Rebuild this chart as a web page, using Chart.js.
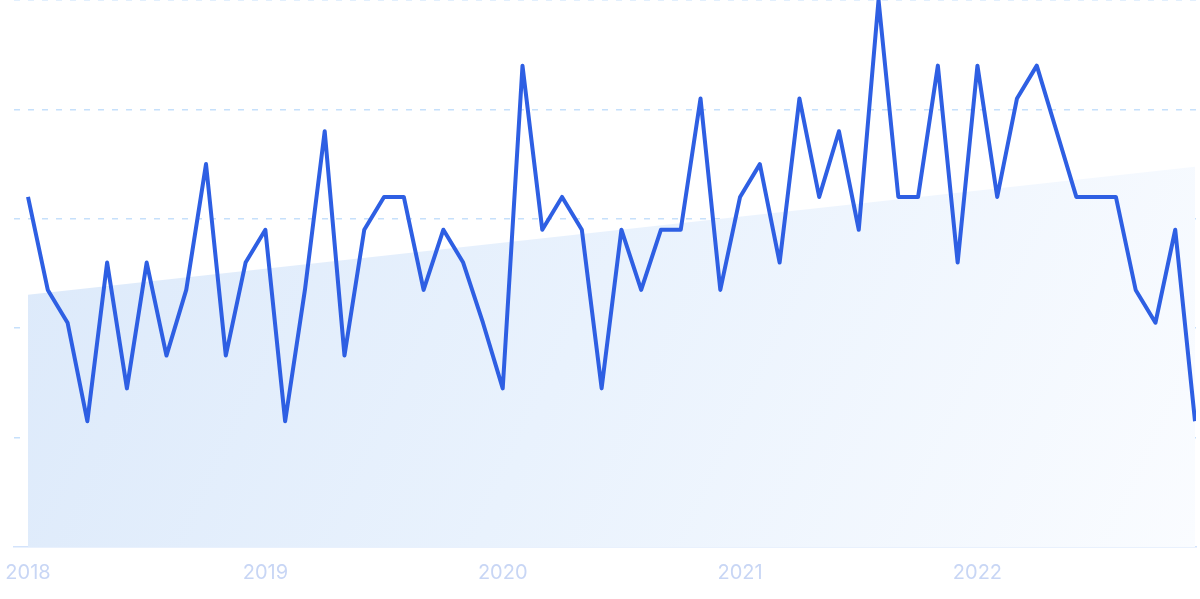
<!DOCTYPE html>
<html>
<head>
<meta charset="utf-8">
<script src="https://cdn.jsdelivr.net/npm/chart.js@4/dist/chart.umd.min.js"></script>
<style>
  html, body { margin: 0; padding: 0; background: #ffffff; }
  #wrap { width: 1200px; height: 599px; position: relative; }
</style>
</head>
<body>
<div id="wrap"><canvas id="c" width="1200" height="599"></canvas></div>
<script>
// Monthly categories Jan 2018 .. Dec 2022
const years = ["2018", "2019", "2020", "2021", "2022"];
const categories = [];
years.forEach(y => { for (let m = 1; m <= 12; m++) categories.push(y + "-" + String(m).padStart(2, "0")); });

// Interest values (0-100)
const values = [
  64, 47, 41, 23, 52, 29, 52, 35, 47, 70, 35, 52,
  58, 23, 47, 76, 35, 58, 64, 64, 47, 58, 52, 41,
  29, 88, 58, 64, 58, 29, 58, 47, 58, 58, 82, 47,
  64, 70, 52, 82, 64, 76, 58, 100, 64, 64, 88, 52,
  88, 64, 82, 88, 76, 64, 64, 64, 47, 41, 58, 23
];

// Trend line end values (first and last month)
const trendValues = [46.1, 69.5];

// Tick labels on the x axis (first month of each year)
const tickLabels = years;

const lineColor = "#2e5fe3";

const linePoints = values.map((v, i) => ({ x: i, y: v }));
const trendPoints = [
  { x: 0, y: trendValues[0] },
  { x: categories.length - 1, y: trendValues[1] }
];

function trendFill(context) {
  const chart = context.chart;
  const a = chart.chartArea;
  if (!a) return "rgba(220,234,250,1)";
  const g = chart.ctx.createLinearGradient(a.left, a.top, a.right, a.bottom);
  g.addColorStop(0, "rgba(218,232,250,1)");
  g.addColorStop(0.5, "rgba(233,242,253,1)");
  g.addColorStop(1, "rgba(250,252,255,1)");
  return g;
}

new Chart(document.getElementById("c"), {
  type: "line",
  data: {
    datasets: [
      {
        label: "Interest",
        data: linePoints,
        borderColor: lineColor,
        borderWidth: 4,
        borderJoinStyle: "round",
        pointRadius: 0,
        pointHoverRadius: 0,
        tension: 0,
        fill: false,
        order: 0
      },
      {
        label: "Trend",
        data: trendPoints,
        borderWidth: 0,
        borderColor: "rgba(0,0,0,0)",
        backgroundColor: trendFill,
        pointRadius: 0,
        fill: "origin",
        order: 1
      }
    ]
  },
  options: {
    responsive: false,
    animation: false,
    events: [],
    layout: { autoPadding: false, padding: { left: 14, right: 4, top: 0, bottom: 0 } },
    plugins: { legend: { display: false }, tooltip: { enabled: false } },
    scales: {
      x: {
        type: "linear",
        min: -0.708,
        max: 59.05,
        afterFit: (scale) => {
          scale.height = 52;
          scale.paddingLeft = 0;
          scale.paddingRight = 0;
        },
        afterBuildTicks: (scale) => {
          scale.ticks = tickLabels.map((_, k) => ({ value: k * 12 }));
        },
        ticks: {
          autoSkip: false,
          maxRotation: 0,
          padding: 14,
          color: "#c8d6f5",
          font: { family: "Inter, 'Open Sans', sans-serif", size: 20 },
          callback: (value) => {
            const k = Math.round(value / 12);
            return tickLabels[k] !== undefined ? tickLabels[k] : "";
          }
        },
        grid: { display: false, drawTicks: false },
        border: { display: true, color: "#d3e3fb", width: 1.5 }
      },
      y: {
        min: 0,
        max: 100,
        z: 1,
        afterFit: (scale) => {
          scale.width = 0;
          scale.paddingTop = 0;
          scale.paddingBottom = 0;
        },
        ticks: { display: false, stepSize: 20 },
        border: { display: false, dash: [6, 8] },
        grid: {
          drawTicks: false,
          lineWidth: 1.5,
          color: (ctx) => (ctx.tick && ctx.tick.value === 0) ? "rgba(0,0,0,0)" : "#c6e0fb"
        }
      }
    }
  }
});
</script>
</body>
</html>
